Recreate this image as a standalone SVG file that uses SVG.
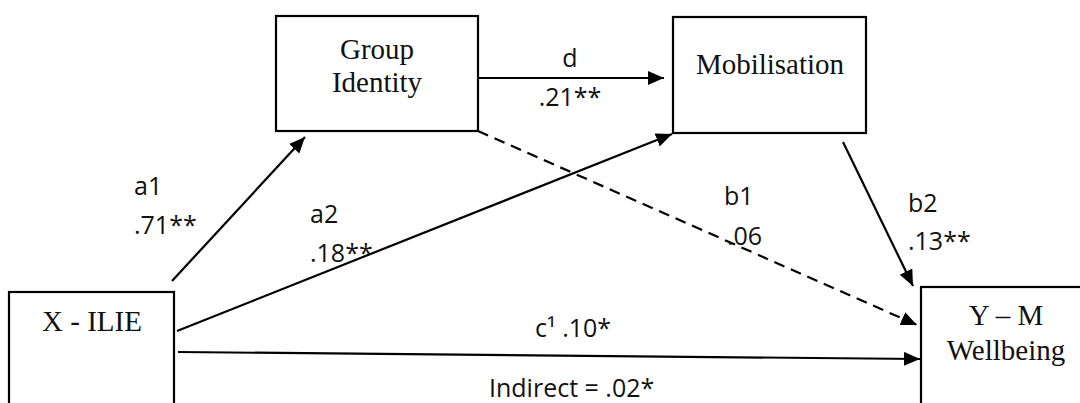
<svg xmlns="http://www.w3.org/2000/svg" width="1080" height="403" viewBox="0 0 1080 403">
  <style>
    .box { fill: #fff; stroke: #000; stroke-width: 2.2; }
    .node-text { font-family: "Liberation Serif", "Times New Roman", serif; font-size: 29px; fill: #111; text-anchor: middle; }
    .lbl { font-family: "Open Sans", "Noto Sans", sans-serif; font-size: 25px; fill: #111; }
    .edge { fill: none; stroke: #000; stroke-width: 2.2; }
    .dash { stroke-dasharray: 11 7; }
  </style>
  <defs>
    <marker id="arrow" markerUnits="userSpaceOnUse" markerWidth="18" markerHeight="16" refX="16" refY="7" orient="auto">
      <path d="M0,0 L16,7 L0,14 z" fill="#000"/>
    </marker>
  </defs>
  <rect width="1080" height="403" fill="#fff"/>

  <g id="connectors">
    <line id="e-d" class="edge" x1="478" y1="78" x2="664" y2="78" marker-end="url(#arrow)"/>
    <line id="e-a1" class="edge" x1="172" y1="281" x2="305" y2="137" marker-end="url(#arrow)"/>
    <line id="e-a2" class="edge" x1="177" y1="331" x2="672" y2="134" marker-end="url(#arrow)"/>
    <line id="e-b1" class="edge dash" x1="478" y1="131" x2="917" y2="325" marker-end="url(#arrow)"/>
    <line id="e-b2" class="edge" x1="843" y1="142" x2="913" y2="286" stroke-width="1.8" marker-end="url(#arrow)"/>
    <line id="e-c" class="edge" x1="178" y1="352" x2="920" y2="359" marker-end="url(#arrow)"/>
  </g>

  <g id="node-group-identity">
    <rect class="box" x="276" y="16" width="202" height="115"/>
    <text class="node-text" x="377" y="59">Group</text>
    <text class="node-text" x="377" y="92">Identity</text>
  </g>
  <g id="node-mobilisation">
    <rect class="box" x="673" y="17" width="193" height="116"/>
    <text class="node-text" x="770" y="74">Mobilisation</text>
  </g>
  <g id="node-x">
    <rect class="box" x="9" y="292" width="165" height="130"/>
    <text class="node-text" x="92" y="331">X - ILIE</text>
  </g>
  <g id="node-y">
    <rect class="box" x="921" y="287" width="175" height="135"/>
    <text class="node-text" x="1006" y="325">Y – M</text>
    <text class="node-text" x="1006" y="360">Wellbeing</text>
  </g>

  <g id="labels">
    <text class="lbl" x="570" y="67" text-anchor="middle">d</text>
    <text class="lbl" x="570" y="106" text-anchor="middle">.21**</text>
    <text class="lbl" x="134" y="195">a1</text>
    <text class="lbl" x="134" y="234">.71**</text>
    <text class="lbl" x="310" y="223">a2</text>
    <text class="lbl" x="310" y="262">.18**</text>
    <text class="lbl" x="724" y="205">b1</text>
    <text class="lbl" x="727" y="245">.06</text>
    <text class="lbl" x="908" y="212">b2</text>
    <text class="lbl" x="908" y="250">.13**</text>
    <text class="lbl" x="535" y="337">c¹ .10*</text>
    <text class="lbl" x="489" y="397">Indirect = .02*</text>
  </g>
</svg>
